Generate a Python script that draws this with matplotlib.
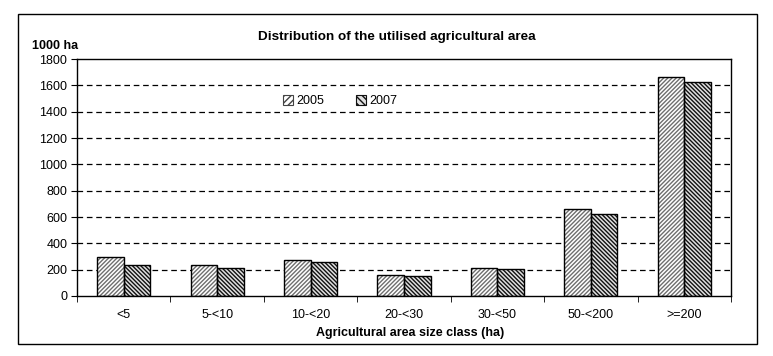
import matplotlib
matplotlib.use("Agg")
import matplotlib.pyplot as plt
import numpy as np
from matplotlib.patches import Rectangle

categories = ["<5", "5-<10", "10-<20", "20-<30", "30-<50", "50-<200", ">=200"]
values_2005 = [295, 235, 272, 160, 210, 658, 1663]
values_2007 = [235, 210, 257, 150, 203, 625, 1622]
series_labels = ["2005", "2007"]
yticks = [0, 200, 400, 600, 800, 1000, 1200, 1400, 1600, 1800]

plt.rcParams['font.family'] = ['Liberation Sans', 'DejaVu Sans']
plt.rcParams['hatch.linewidth'] = 1.0

W, H = 773, 356
fig = plt.figure(figsize=(W / 100, H / 100), dpi=100)

# outer chart border
fig.patches.append(Rectangle((18 / W, 1 - 344 / H), (757 - 18) / W, (344 - 14) / H,
                             transform=fig.transFigure, fill=False, edgecolor='black',
                             linewidth=1.0))

ax = fig.add_axes([77 / W, 1 - 296 / H, (731 - 77) / W, (296 - 59) / H])

x = np.arange(len(categories))
w = 0.285
# hatch layers (hatch colour follows edge colour)
ax.bar(x - w / 2, values_2005, w, facecolor='white', edgecolor='#6e6e6e',
       hatch='/' * 8, linewidth=0, zorder=2)
ax.bar(x + w / 2, values_2007, w, facecolor='#e0e0e0', edgecolor='#111111',
       hatch='\\' * 8, linewidth=0, zorder=2)
# outlines
ax.bar(x - w / 2, values_2005, w, fill=False, edgecolor='black', linewidth=1.0, zorder=3)
ax.bar(x + w / 2, values_2007, w, fill=False, edgecolor='black', linewidth=1.0, zorder=3)

# legend handles
h1 = Rectangle((0, 0), 1, 1, facecolor='white', edgecolor='#444444', hatch='/' * 5, linewidth=0.8)
h2 = Rectangle((0, 0), 1, 1, facecolor='#e0e0e0', edgecolor='#111111', hatch='\\' * 5, linewidth=0.8)

ax.set_xlim(-0.5, len(categories) - 0.5)
ax.set_ylim(0, 1800)
ax.set_yticks(yticks)
ax.set_yticklabels([str(v) for v in yticks], fontsize=9)
ax.set_xticks(x)
ax.set_xticklabels(categories, fontsize=9)
ax.set_xticks(np.arange(-0.5, len(categories), 1.0), minor=True)
ax.tick_params(axis='x', which='major', length=0, pad=9)
ax.tick_params(axis='x', which='minor', length=4, direction='out')
ax.tick_params(axis='y', length=4, direction='out', pad=3)

for v in yticks[1:-1]:
    ax.axhline(v, color='black', linestyle=(0, (4.5, 3)), linewidth=0.9, zorder=0.5)

for s in ax.spines.values():
    s.set_linewidth(1.0)

ax.set_xlabel("Agricultural area size class (ha)", fontsize=9, fontweight='bold', labelpad=5)
ax.xaxis.set_label_coords((410 - 77) / (731 - 77), -0.13)
fig.text(397 / W, 1 - 37 / H, "Distribution of the utilised agricultural area",
         ha='center', va='center', fontsize=9.7, fontweight='bold')
fig.text(32 / W, 1 - 46 / H, "1000 ha", ha='left', va='center', fontsize=9, fontweight='bold')

leg = ax.legend([h1, h2], series_labels, loc='center',
                bbox_to_anchor=((340 - 77) / (731 - 77), (296 - 101) / (296 - 59)),
                ncol=2, frameon=False, fontsize=9, handlelength=0.8, handleheight=0.8,
                handletextpad=0.3, columnspacing=2.5)

fig.savefig("out.png", dpi=100)
